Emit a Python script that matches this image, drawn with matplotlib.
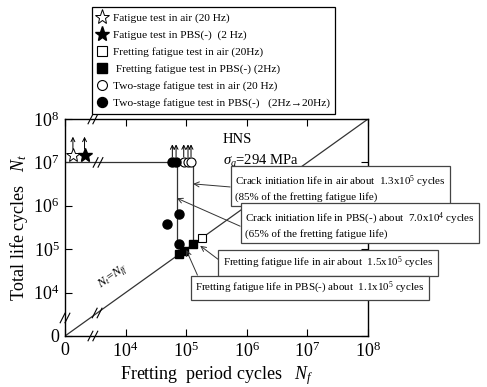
import numpy as np
import matplotlib.pyplot as plt
from matplotlib.lines import Line2D
from matplotlib.transforms import offset_copy

plt.rcParams['font.family'] = ['Liberation Serif', 'DejaVu Serif']
plt.rcParams['mathtext.fontset'] = 'custom'
plt.rcParams['mathtext.rm'] = 'Liberation Serif'
plt.rcParams['mathtext.it'] = 'Liberation Serif:italic'

# Dados (ciclos de fretting Nf, ciclos totais Nt)
star_air_nf = [1.35e3]
star_air_nt = [1.5e7]
star_pbs_nf = [2.1e3]
star_pbs_nt = [1.5e7]
ff_air_nf = [1.8e5]
ff_air_nt = [1.8e5]
ff_pbs_nf = [7.6e4, 9.1e4, 1.3e5]
ff_pbs_nt = [7.6e4, 9.1e4, 1.3e5]
two_air_nf = [9.1e4, 1.07e5, 1.2e5]
two_air_nt = [1e7, 1e7, 1e7]
two_pbs_nf = [5.9e4, 6.8e4, 7.6e4, 4.8e4, 7.6e4]
two_pbs_nt = [1e7, 1e7, 6.5e5, 3.8e5, 1.3e5]

# pontos que nao romperam (setas para cima)
runout_nf = [1.35e3, 2.1e3, 5.9e4, 6.8e4, 9.1e4, 1.07e5, 1.2e5]
runout_nt = [1.5e7, 1.5e7, 1e7, 1e7, 1e7, 1e7, 1e7]

# linhas de referencia
runout_level = 1e7
init_pbs = 7.0e4
init_air = 1.3e5
life_pbs = 1.1e5
life_air = 1.5e5

ticks = [1e3, 1e4, 1e5, 1e6, 1e7, 1e8]
tick_labels = ['0', r'$10^{4}$', r'$10^{5}$', r'$10^{6}$', r'$10^{7}$', r'$10^{8}$']

legend_labels = ['Fatigue test in air (20 Hz)',
                 'Fatigue test in PBS(-)  (2 Hz)',
                 'Fretting fatigue test in air (20Hz)',
                 ' Fretting fatigue test in PBS(-) (2Hz)',
                 'Two-stage fatigue test in air (20 Hz)',
                 'Two-stage fatigue test in PBS(-)   (2Hz\u219220Hz)']

fig = plt.figure(figsize=(4.87, 3.87), dpi=100)
ax = fig.add_axes([0.1335, 0.1318, 0.6222, 0.5607])
ax.set_xscale('log')
ax.set_yscale('log')
ax.set_xlim(1e3, 1e8)
ax.set_ylim(1e3, 1e8)
ax.set_xticks(ticks)
ax.set_xticklabels(tick_labels)
ax.set_yticks(ticks)
ax.set_yticklabels(tick_labels)
ax.minorticks_off()
ax.tick_params(direction='in', top=True, right=True, length=5, width=0.8,
               labelsize=13, pad=4)
for s in ax.spines.values():
    s.set_linewidth(1.0)

ax.set_xlabel(r'Fretting  period cycles   $N_f$', fontsize=13, labelpad=2)
ax.set_ylabel(r'Total life cycles   $N_t$', fontsize=13, labelpad=2)

# linhas
lc = '#333333'
ax.plot([1e3, 1e8], [1e3, 1e8], color=lc, lw=0.9, zorder=2)
ax.plot([1e3, init_air], [runout_level, runout_level], color=lc, lw=0.9, zorder=2)
ax.plot([init_pbs, init_pbs], [life_pbs, runout_level], color=lc, lw=0.9, zorder=2)
ax.plot([init_air, init_air], [life_air, runout_level], color=lc, lw=0.9, zorder=2)

# setas de run-out
head_tr = offset_copy(ax.transData, fig=fig, x=0, y=13, units='points')
for x, y in zip(runout_nf, runout_nt):
    ax.annotate('', xy=(x, y), xycoords=head_tr, xytext=(0, -9),
                textcoords='offset points', annotation_clip=False,
                arrowprops=dict(arrowstyle='->', lw=0.7, color='black',
                                shrinkA=0, shrinkB=0, mutation_scale=7))

# marcadores
h1, = ax.plot(star_air_nf, star_air_nt, ls='none', marker='*', ms=10, mfc='white', mec='black', mew=0.7, zorder=4)
h2, = ax.plot(star_pbs_nf, star_pbs_nt, ls='none', marker='*', ms=10, mfc='black', mec='black', zorder=4)
h3, = ax.plot(ff_air_nf, ff_air_nt, ls='none', marker='s', ms=6, mfc='white', mec='black', mew=0.8, zorder=4)
h4, = ax.plot(ff_pbs_nf, ff_pbs_nt, ls='none', marker='s', ms=6, mfc='black', mec='black', zorder=4)
h5, = ax.plot(two_air_nf, two_air_nt, ls='none', marker='o', ms=6.5, mfc='white', mec='black', mew=0.8, zorder=4)
h6, = ax.plot(two_pbs_nf, two_pbs_nt, ls='none', marker='o', ms=6.5, mfc='black', mec='black', zorder=4)

leg = fig.legend([h1, h2, h3, h4, h5, h6], legend_labels, loc='upper left',
                 bbox_to_anchor=(0.189, 0.982), fontsize=8.2, frameon=True,
                 fancybox=False, edgecolor='black', framealpha=1,
                 handlelength=0.8, handletextpad=0.5, labelspacing=0.6,
                 borderpad=0.5, borderaxespad=0, markerscale=1.1)
leg.get_frame().set_linewidth(0.9)

# quebras de eixo "//"
def quebra(xf, yf):
    for dx in (-0.008, 0.008):
        ax.plot([xf + dx - 0.008, xf + dx + 0.008], [yf - 0.022, yf + 0.022],
                transform=ax.transAxes, color='black', lw=0.8,
                clip_on=False, zorder=6)

for xf, yf in [(0.092, 1.0), (0.092, 0.0), (0.0, 0.083), (0.106, 0.106), (0.109, 0.80)]:
    quebra(xf, yf)

# textos
ax.text(0.52, 0.89, 'HNS', transform=ax.transAxes, fontsize=10.5)
ax.text(0.52, 0.79, r'$\sigma_a$=294 MPa', transform=ax.transAxes, fontsize=10.5)
ax.text(0.16, 0.275, r'$N_t$=$N_{ff}$', transform=ax.transAxes, fontsize=9,
        rotation=35.6, ha='center', va='center')

box = dict(boxstyle='square,pad=0.4', fc='white', ec='#444444', lw=0.9)
arr = dict(arrowstyle='->', lw=0.7, color='#333333', shrinkA=0, shrinkB=0,
           mutation_scale=9)
notes = [
    ('Crack initiation life in air about  1.3x10$^{5}$ cycles\n(85% of the fretting fatigue life)',
     (init_air, 3.2e6), (0.561, 0.685), (0, 0.5)),
    ('Crack initiation life in PBS(-) about  7.0x10$^{4}$ cycles\n(65% of the fretting fatigue life)',
     (init_pbs, 1.5e6), (0.594, 0.512), (-0.02, 0.45)),
    ('Fretting fatigue life in air about  1.5x10$^{5}$ cycles',
     (1.7e5, 1.2e5), (0.521, 0.336), (-0.02, 0.7)),
    ('Fretting fatigue life in PBS(-) about  1.1x10$^{5}$ cycles',
     (1.0e5, 9.6e4), (0.429, 0.221), (0.02, 1.0)),
]
for txt, xy, xyt, rp in notes:
    a = dict(arr)
    a['relpos'] = rp
    ax.annotate(txt, xy=xy, xycoords='data', xytext=xyt, textcoords='axes fraction',
                fontsize=7.9, ha='left', va='center', linespacing=1.25,
                bbox=box, arrowprops=a, zorder=8, annotation_clip=False)

plt.savefig('out.png', dpi=100)
